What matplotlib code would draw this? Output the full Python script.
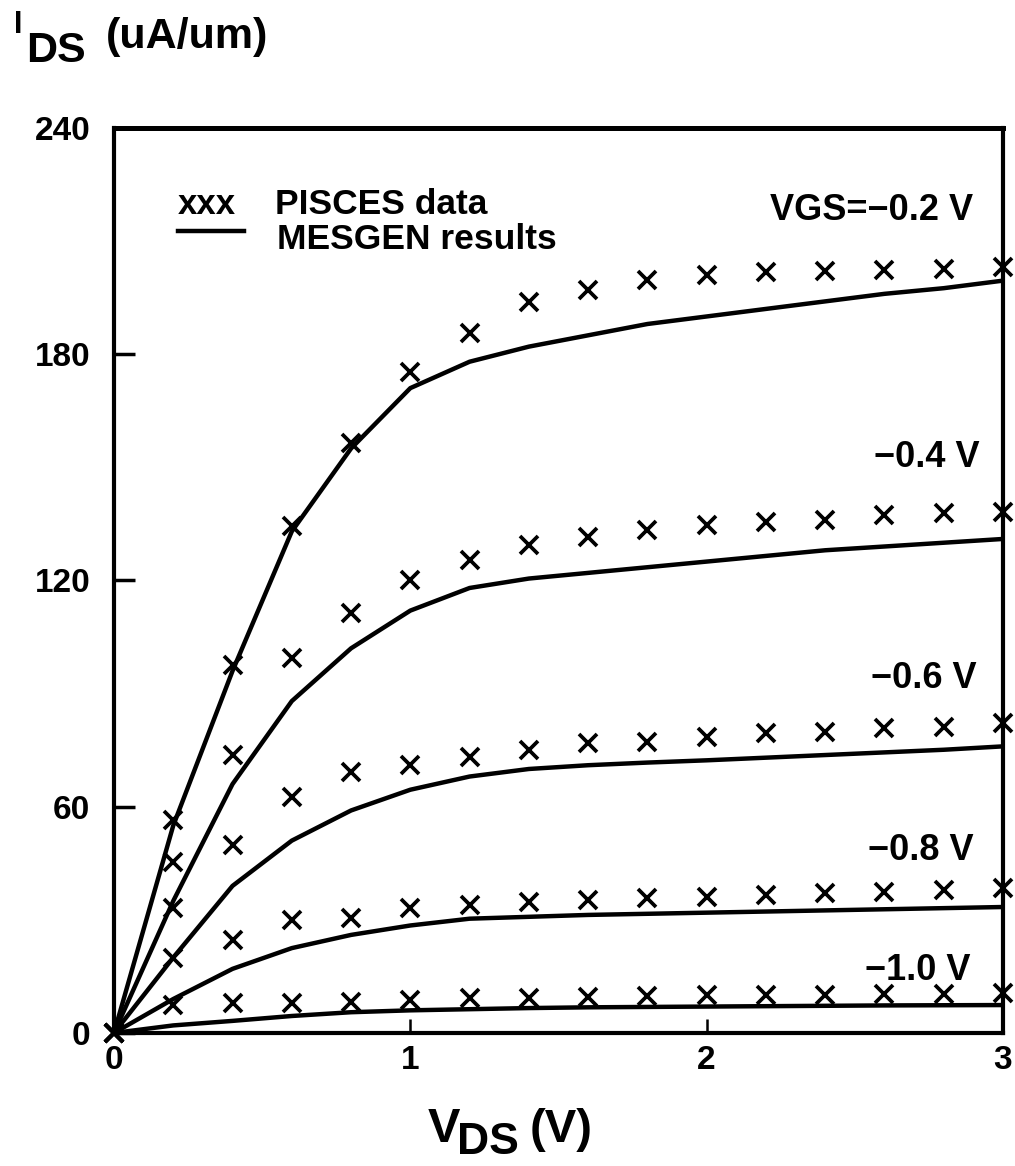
import matplotlib
matplotlib.use("Agg")
import matplotlib.pyplot as plt
from matplotlib.lines import Line2D

plt.rcParams['font.family'] = ['Liberation Sans', 'DejaVu Sans']

# ---- data ----
vds = [0.0, 0.2, 0.4, 0.6, 0.8, 1.0, 1.2, 1.4, 1.6, 1.8, 2.0, 2.2, 2.4, 2.6, 2.8, 3.0]

pisces_m02 = [0, 56.5, 97.6, 134.5, 156.5, 175.3, 185.7, 193.9, 197.0, 199.7, 201.0, 201.9, 202.0, 202.4, 202.6, 203.0]
pisces_m04 = [0, 45.4, 73.7, 99.5, 111.4, 120.2, 125.5, 129.4, 131.6, 133.4, 134.7, 135.5, 136.0, 137.4, 137.9, 138.2]
pisces_m06 = [0, 33.2, 49.9, 62.6, 69.2, 71.1, 73.2, 75.1, 76.9, 77.2, 78.5, 79.6, 79.8, 80.9, 81.2, 82.2]
pisces_m08 = [0, 19.9, 24.7, 30.0, 30.5, 33.2, 34.0, 34.7, 35.3, 35.8, 36.1, 36.6, 37.1, 37.4, 37.9, 38.5]
pisces_m10 = [0, 7.4, 8.0, 8.0, 8.2, 8.8, 9.3, 9.3, 9.5, 9.8, 10.0, 10.0, 10.0, 10.2, 10.3, 10.5]

mesgen_m02 = [0, 55, 96, 133, 155, 171, 178, 182, 185, 188, 190, 192, 194, 196, 197.5, 199.5]
mesgen_m04 = [0, 35, 66, 88, 102, 112, 118, 120.5, 122, 123.5, 125, 126.5, 128, 129, 130, 131]
mesgen_m06 = [0, 20, 39, 51, 59, 64.5, 68, 70, 71, 71.7, 72.3, 73, 73.7, 74.4, 75.1, 76]
mesgen_m08 = [0, 9, 17, 22.5, 26, 28.5, 30.3, 30.8, 31.3, 31.6, 31.9, 32.2, 32.5, 32.8, 33.1, 33.4]
mesgen_m10 = [0, 2, 3.2, 4.5, 5.5, 6, 6.3, 6.6, 6.8, 6.9, 7.0, 7.1, 7.2, 7.3, 7.35, 7.4]

curve_labels = ["VGS=\u22120.2 V", "\u22120.4 V", "\u22120.6 V", "\u22120.8 V", "\u22121.0 V"]
label_pos = [(2.90, 215.6), (2.92, 150.0), (2.91, 91.5), (2.90, 45.9), (2.89, 14.1)]

xticks = [0, 1, 2, 3]
yticks = [0, 60, 120, 180, 240]

pisces = [pisces_m02, pisces_m04, pisces_m06, pisces_m08, pisces_m10]
mesgen = [mesgen_m02, mesgen_m04, mesgen_m06, mesgen_m08, mesgen_m10]

# ---- figure ----
fig = plt.figure(figsize=(10.15, 11.66), dpi=100)
ax = fig.add_axes([0.1123, 0.1141, 0.8759, 0.7762])

for ys in mesgen:
    ax.plot(vds, ys, color='black', lw=3.2, solid_joinstyle='round', zorder=3)
for ys in pisces:
    ax.plot(vds, ys, linestyle='none', marker='x', markersize=13, mew=2.7,
            color='black', clip_on=False, zorder=4)

ax.set_xlim(0, 3)
ax.set_ylim(0, 240)
ax.set_xticks(xticks)
ax.set_yticks(yticks)
ax.set_xticklabels([str(t) for t in xticks])
ax.set_yticklabels([str(t) for t in yticks])

for s in ax.spines.values():
    s.set_linewidth(3.0)
ax.spines['top'].set_linewidth(3.6)
ax.tick_params(axis='y', direction='in', length=15, width=2.5, labelsize=24, pad=17)
ax.tick_params(axis='x', direction='in', length=10, width=1.8, labelsize=24, pad=9)
for lab in ax.get_xticklabels() + ax.get_yticklabels():
    lab.set_fontweight('bold')

# curve labels
for txt, (x, y) in zip(curve_labels, label_pos):
    ax.text(x, y, txt, ha='right', va='baseline', fontsize=26, fontweight='bold')

# legend (manual)
ax.text(0.072, 0.905, "xxx", transform=ax.transAxes, fontsize=25, fontweight='bold',
        ha='left', va='baseline')
ax.text(0.181, 0.905, "PISCES data", transform=ax.transAxes, fontsize=25.5,
        fontweight='bold', ha='left', va='baseline')
ax.add_line(Line2D([0.072, 0.146], [0.8865, 0.8865], transform=ax.transAxes,
                   color='black', lw=3.2))
ax.text(0.183, 0.866, "MESGEN results", transform=ax.transAxes, fontsize=25.5,
        fontweight='bold', ha='left', va='baseline')

# axis titles
fig.text(14/1015, 1 - 33/1166, "I", fontsize=22, fontweight='bold', ha='left', va='baseline')
fig.text(26/1015, 1 - 62/1166, "DS", fontsize=31, fontweight='bold', ha='left', va='baseline')
fig.text(106/1015, 1 - 48/1166, "(uA/um)", fontsize=31, fontweight='bold', ha='left', va='baseline')

fig.text(428/1015, 1 - 1142/1166, "V", fontsize=35, fontweight='bold', ha='left', va='baseline')
fig.text(457/1015, 1 - 1154/1166, "DS", fontsize=32, fontweight='bold', ha='left', va='baseline')
fig.text(530/1015, 1 - 1142/1166, "(V)", fontsize=34, fontweight='bold', ha='left', va='baseline')

fig.savefig("out.png", dpi=100)
